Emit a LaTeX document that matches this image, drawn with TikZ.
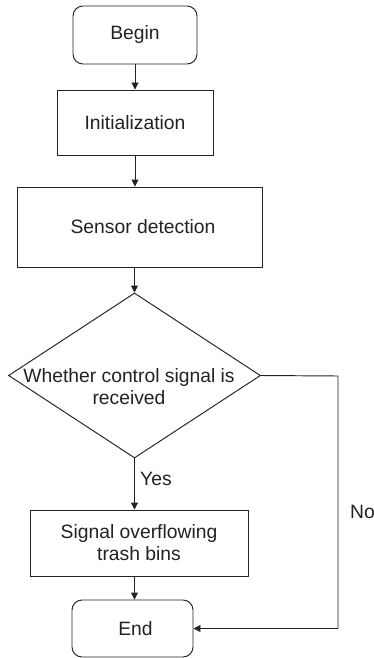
\documentclass[tikz,border=0pt]{standalone}
\usepackage{fontspec}
\setmainfont{Liberation Sans}
\usetikzlibrary{shapes.geometric,arrows.meta}
\definecolor{ink}{HTML}{222222}
\begin{document}
\begin{tikzpicture}[x=1pt,y=-1pt,
  every node/.style={font=\fontsize{19.3}{22}\selectfont, text=ink},
  box/.style={draw=ink, line width=0.95pt, rectangle, inner sep=0pt, align=center},
  term/.style={box, rounded corners=10pt},
  dec/.style={draw=ink, line width=0.95pt, diamond, inner sep=0pt},
  conn/.style={draw=ink, line width=0.95pt, -{Triangle[length=7pt,width=7pt]}},
  plain/.style={draw=ink, line width=0.95pt}]
\useasboundingbox (0,0) rectangle (374,658);
\fill[white] (0,0) rectangle (374,658);
\node[term, minimum width=124pt, minimum height=58pt] (begin) at (135,35) {Begin};
\node[box, minimum width=156pt, minimum height=65pt] (init) at (135,122.5) {Initialization};
\node[box, minimum width=245pt, minimum height=80pt] (sensor) at (139.5,227) {\hspace*{7pt}Sensor detection};
\node[dec, minimum width=252pt, minimum height=165pt] (cond) at (134.5,375.5) {};
\node[align=center, inner sep=0pt] (condtext) at (129,387) {Whether control signal is\\received};
\node[box, minimum width=218pt, minimum height=66pt] (sig) at (139,543) {Signal overflowing\\trash bins};
\node[term, minimum width=121pt, minimum height=57pt] (end) at (132.5,628.5) {\hspace*{6pt}End};
\node[anchor=west, inner sep=0pt] (yes) at (140,479) {Yes};
\node[anchor=west, inner sep=0pt] (no) at (350,512) {No};
\coordinate (corner) at (338,376);
\draw[conn] (begin.south) -- (init.north);
\draw[conn] (init.south) -- (init.south |- sensor.north);
\draw[conn] (cond.north |- sensor.south) -- (cond.north);
\draw[conn] (cond.south) -- (cond.south |- sig.north);
\draw[conn] (cond.south |- sig.south) -- (cond.south |- end.north);
\draw[conn] (cond.east) -- (corner) |- (end.east);
\end{tikzpicture}
\end{document}
